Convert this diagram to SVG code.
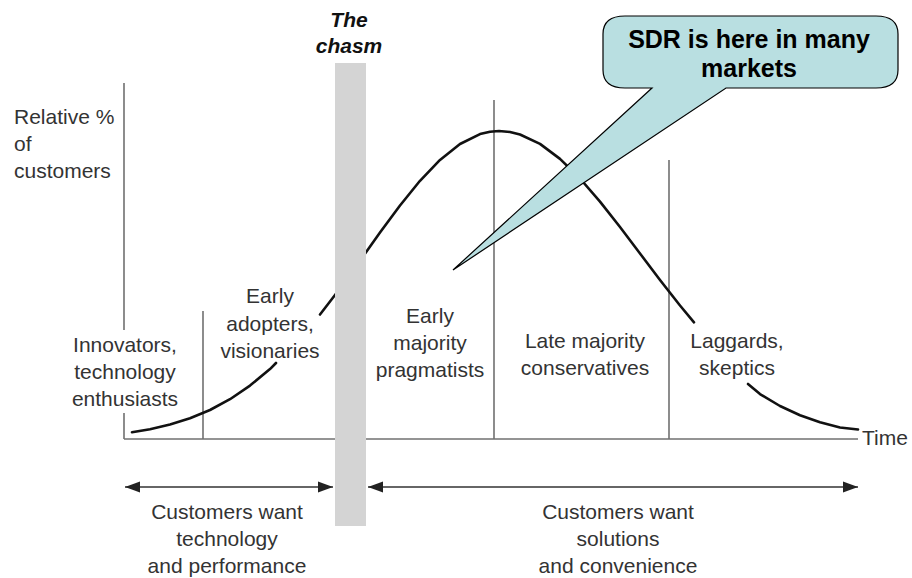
<svg xmlns="http://www.w3.org/2000/svg" width="912" height="578" viewBox="0 0 912 578">
<style>
.t{font-family:"Liberation Sans",Arial,sans-serif;font-size:21px;fill:#333;text-anchor:middle}
.l{text-anchor:start}
.ax{stroke:#707070;stroke-width:1.6;fill:none}
.cv{stroke:#111;stroke-width:2.6;fill:none;stroke-linejoin:round;stroke-linecap:round}
.ar{stroke:#333;stroke-width:1.6;fill:none}
.co{font-family:"Liberation Sans",Arial,sans-serif;font-size:25px;font-weight:bold;fill:#000;text-anchor:middle}
</style>
<defs>
<marker id="ah" markerUnits="userSpaceOnUse" markerWidth="16" markerHeight="12" refX="15" refY="6" orient="auto-start-reverse">
<path d="M0,0.5 L15,6 L0,11.5 z" fill="#222"/>
</marker>
</defs>
<rect width="912" height="578" fill="#fff"/>
<g id="axes">
<line class="ax" x1="124" y1="83" x2="124" y2="330"/>
<line class="ax" x1="124" y1="413" x2="124" y2="439"/>
<line class="ax" x1="124" y1="439" x2="858" y2="439"/>
<line class="ax" x1="203" y1="311" x2="203" y2="439"/>
<line class="ax" x1="494" y1="100" x2="494" y2="439"/>
<line class="ax" x1="669" y1="160" x2="669" y2="439"/>
</g>
<g id="connectors">
<path class="cv" d="M132,432.2 L150,429.2 L170,424.6 L190,418.3 L210,410 L230,399.2 L250,385.6 L270,369.1 L276,363"/>
<path class="cv" d="M320,314.5 L335,295 L350,274.6 L366,252.2 L380,232.6 L400,205.5 L420,180.8 L440,159.9 L460,144 L480,134.1 L490,131.7 L499,131 L510,132 L520,134.5 L540,143.9 L560,158.9 L580,178.5 L600,201.6 L620,227 L640,253.5 L660,280 L680,305.5 L694,322.3"/>
<path class="cv" d="M748,384 L760,394.1 L780,406 L800,415.2 L820,422.3 L840,427.5 L858,429.5"/>
<line class="ar" x1="125" y1="487" x2="333" y2="487" marker-start="url(#ah)" marker-end="url(#ah)"/>
<line class="ar" x1="368" y1="487" x2="858" y2="487" marker-start="url(#ah)" marker-end="url(#ah)"/>
</g>
<g id="chasm">
<rect x="335" y="63" width="31" height="463" fill="#d4d4d4"/>
<text class="t" x="349" y="27" style="font-weight:bold;font-style:italic;fill:#111">The</text>
<text class="t" x="349" y="53" style="font-weight:bold;font-style:italic;fill:#111">chasm</text>
</g>
<g id="yaxis-label">
<text class="t l" x="14" y="124">Relative %</text>
<text class="t l" x="14" y="151">of</text>
<text class="t l" x="14" y="178">customers</text>
</g>
<g id="innovators">
<text class="t" x="125" y="352">Innovators,</text>
<text class="t" x="125" y="379">technology</text>
<text class="t" x="125" y="406">enthusiasts</text>
</g>
<g id="early-adopters">
<text class="t" x="270" y="303">Early</text>
<text class="t" x="270" y="331">adopters,</text>
<text class="t" x="270" y="358">visionaries</text>
</g>
<g id="early-majority">
<text class="t" x="430" y="323">Early</text>
<text class="t" x="430" y="350">majority</text>
<text class="t" x="430" y="377">pragmatists</text>
</g>
<g id="late-majority">
<text class="t" x="585" y="348">Late majority</text>
<text class="t" x="585" y="375">conservatives</text>
</g>
<g id="laggards">
<text class="t" x="737" y="348">Laggards,</text>
<text class="t" x="737" y="375">skeptics</text>
</g>
<g id="time">
<text class="t l" x="862" y="445">Time</text>
</g>
<g id="want-tech">
<text class="t" x="227" y="519">Customers want</text>
<text class="t" x="227" y="546">technology</text>
<text class="t" x="227" y="573">and performance</text>
</g>
<g id="want-solutions">
<text class="t" x="618" y="519">Customers want</text>
<text class="t" x="618" y="546">solutions</text>
<text class="t" x="618" y="573">and convenience</text>
</g>
<g id="callout">
<path d="M625,16 H876 Q898,16 898,34 V70 Q898,88 876,88 H726 L453,270 L652,88 H625 Q603,88 603,70 V34 Q603,16 625,16 Z" fill="#b9dfe1" stroke="#000" stroke-width="1.2"/>
<text class="co" x="749" y="48">SDR is here in many</text>
<text class="co" x="749" y="77">markets</text>
</g>
</svg>
